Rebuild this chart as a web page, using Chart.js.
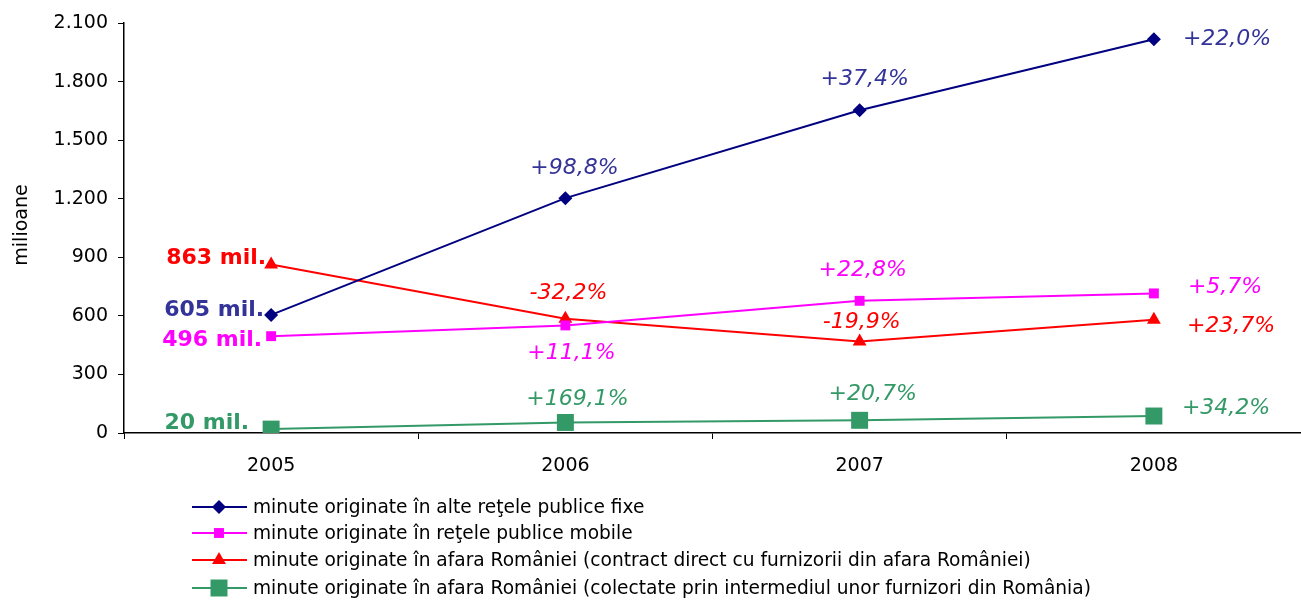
<!DOCTYPE html>
<html>
<head>
<meta charset="utf-8">
<script src="https://cdn.jsdelivr.net/npm/chart.js@4/dist/chart.umd.min.js"></script>
<style>
  html, body { margin: 0; padding: 0; background: #fff; }
  #wrap { width: 1301px; height: 600px; }
</style>
</head>
<body>
<div id="wrap"><canvas id="c" width="1301" height="600"></canvas></div>
<script>
// ─── Data ───
const years = ['2005', '2006', '2007', '2008'];
const fixe    = [605, 1203, 1653, 2017];
const mobile  = [496, 551, 677, 715];
const direct  = [863, 585, 469, 580];
const colect  = [20, 54, 65, 87];

const fixePct   = ['', '+98,8%', '+37,4%', '+22,0%'];
const mobilePct = ['', '+11,1%', '+22,8%', '+5,7%'];
const directPct = ['', '-32,2%', '-19,9%', '+23,7%'];
const colectPct = ['', '+169,1%', '+20,7%', '+34,2%'];
const startLabels = ['605 mil.', '496 mil.', '863 mil.', '20 mil.'];

const legendNames = [
    'minute originate în alte reţele publice fixe',
    'minute originate în reţele publice mobile',
    'minute originate în afara României (contract direct cu furnizorii din afara României)',
    'minute originate în afara României (colectate prin intermediul unor furnizori din România)'
];

const FONT = 'DejaVu Sans, Verdana, sans-serif';

// label placement relative to each point: [dx, dy, align]
const pctPos = [
    [null, [9, -30, 'center'], [5, -31, 'center'], [29, 0, 'left']],
    [null, [6, 28, 'center'], [3, -31, 'center'], [34, -6, 'left']],
    [null, [3, -26, 'center'], [2, -19, 'center'], [33, 7, 'left']],
    [null, [12, -23, 'center'], [13, -26, 'center'], [28, -8, 'left']]
];
const startPos = [[-7, -5], [-9, 4], [-5, -6], [-22, -6]];
const labelColors = ['#333399', '#FF00FF', '#FF0000', '#339966'];

// ─── labels + legend ───
function marker(c, style, r, x, y) {
    c.beginPath();
    if (style === 'rectRot') {
        c.moveTo(x, y - r); c.lineTo(x + r, y); c.lineTo(x, y + r); c.lineTo(x - r, y);
    } else if (style === 'triangle') {
        const h = r * Math.sqrt(3) / 2;
        c.moveTo(x, y - r); c.lineTo(x + h, y + r / 2); c.lineTo(x - h, y + r / 2);
    } else {
        const s = r * Math.SQRT1_2;
        c.rect(x - s, y - s, 2 * s, 2 * s);
    }
    c.closePath();
    c.fill();
}

const annot = {
    id: 'annot',
    afterDatasetsDraw(chart) {
        const c = chart.ctx;
        const pcts = [fixePct, mobilePct, directPct, colectPct];
        c.save();
        c.textBaseline = 'middle';
        chart.data.datasets.forEach((ds, i) => {
            const meta = chart.getDatasetMeta(i);
            meta.data.forEach((pt, j) => {
                c.fillStyle = labelColors[i];
                if (j === 0) {
                    c.font = 'bold 22px ' + FONT;
                    c.textAlign = 'right';
                    c.fillText(startLabels[i], pt.x + startPos[i][0], pt.y + startPos[i][1]);
                    return;
                }
                const p = pctPos[i][j];
                c.font = 'italic 22px ' + FONT;
                c.textAlign = p[2];
                c.fillText(pcts[i][j], pt.x + p[0], pt.y + p[1]);
            });
        });

        // legend at bottom
        const rowsY = [507, 533, 560, 588];
        c.font = '18.6px ' + FONT;
        c.textAlign = 'left';
        chart.data.datasets.forEach((ds, i) => {
            const y = rowsY[i];
            c.strokeStyle = ds.borderColor;
            c.lineWidth = 2;
            c.beginPath();
            c.moveTo(192, y);
            c.lineTo(247, y);
            c.stroke();
            c.fillStyle = ds.pointBackgroundColor;
            marker(c, ds.pointStyle, ds.pointRadius, 219, y);
            c.fillStyle = '#000';
            c.fillText(legendNames[i], 253, y + 1);
        });

        // y axis title
        c.translate(22, 225);
        c.rotate(-Math.PI / 2);
        c.textAlign = 'center';
        c.font = '19px ' + FONT;
        c.fillText('milioane', 0, 0);
        c.restore();
    }
};

function series(label, data, color, style, radius) {
    return {
        label, data,
        borderColor: color,
        backgroundColor: color,
        pointBackgroundColor: color,
        pointBorderColor: color,
        pointBorderWidth: 0,
        pointStyle: style,
        pointRadius: radius,
        borderWidth: 2,
        tension: 0
    };
}

new Chart(document.getElementById('c'), {
    type: 'line',
    data: {
        labels: years,
        datasets: [
            series(legendNames[0], fixe, '#000080', 'rectRot', 7),
            series(legendNames[1], mobile, '#FF00FF', 'rect', 7),
            series(legendNames[2], direct, '#FF0000', 'triangle', 8),
            series(legendNames[3], colect, '#339966', 'rect', 12)
        ]
    },
    options: {
        responsive: false,
        animation: false,
        layout: { autoPadding: false, padding: { top: 23, right: 0, left: 0, bottom: 0 } },
        plugins: {
            legend: { display: false },
            tooltip: { enabled: false }
        },
        scales: {
            x: {
                offset: true,
                afterFit: s => { s.height = 167; },
                grid: { offset: true, drawOnChartArea: false, tickLength: 6, color: '#000' },
                border: { color: '#000', width: 1.5 },
                ticks: { color: '#000', font: { family: FONT, size: 19 }, padding: 16 }
            },
            y: {
                min: 0,
                max: 2100,
                afterFit: s => { s.width = 124; },
                grid: { drawOnChartArea: false, tickLength: 6, color: '#000' },
                border: { color: '#000', width: 1.5 },
                ticks: {
                    stepSize: 300,
                    color: '#000',
                    font: { family: FONT, size: 19 },
                    padding: 10,
                    callback: v => v.toLocaleString('de-DE')
                }
            }
        }
    },
    plugins: [annot]
});
</script>
</body>
</html>
